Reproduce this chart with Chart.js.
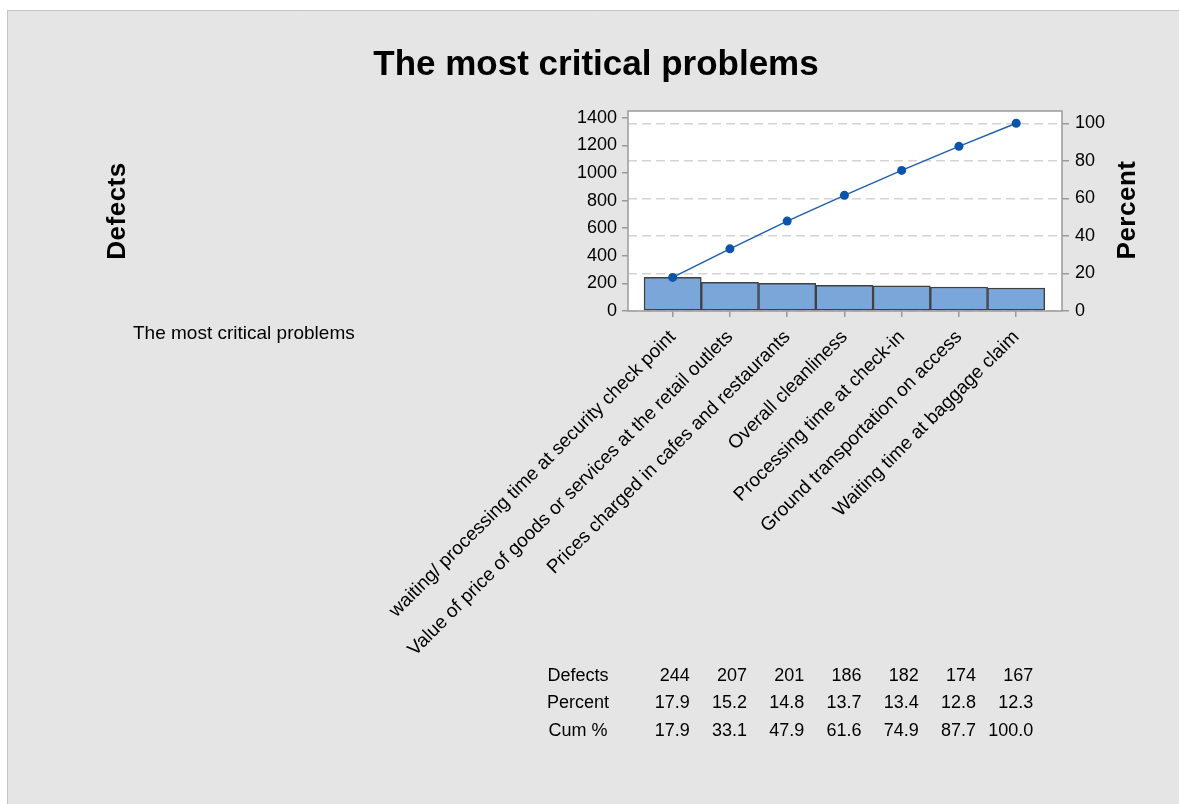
<!DOCTYPE html>
<html><head><meta charset="utf-8">
<script src="https://cdn.jsdelivr.net/npm/chart.js@4.4.1/dist/chart.umd.min.js"></script>
<style>html,body{margin:0;padding:0;background:#fff;}#wrap{width:1179px;height:804px;position:relative}</style>
</head><body><div id="wrap"><canvas id="c" width="1179" height="804"></canvas></div>
<script>
const chartTitle = 'The most critical problems';
const xAxisTitle = 'The most critical problems';
const leftAxisTitle = 'Defects';
const rightAxisTitle = 'Percent';
const categories = [
  'waiting/ processing time at security check point',
  'Value of price of goods or services at the retail outlets',
  'Prices charged in cafes and restaurants',
  'Overall cleanliness',
  'Processing time at check-in',
  'Ground transportation on access',
  'Waiting time at baggage claim'
];
const defects = [244, 207, 201, 186, 182, 174, 167];
const percent = [17.9, 15.2, 14.8, 13.7, 13.4, 12.8, 12.3];
const cumPercent = [17.9, 33.1, 47.9, 61.6, 74.9, 87.7, 100.0];
const countTicks = [0, 200, 400, 600, 800, 1000, 1200, 1400];
const percentTicks = [0, 20, 40, 60, 80, 100];
const tableRows = ['Defects', 'Percent', 'Cum %'];

const countMax = 1450;
const totalDefects = defects.reduce((a, b) => a + b, 0);
const percentMax = countMax / totalDefects * 100;

const FONT = '"Liberation Sans", Arial, sans-serif';

const decor = {
  id: 'decor',
  beforeDraw(chart) {
    const ctx = chart.ctx, a = chart.chartArea;
    ctx.save();
    ctx.fillStyle = '#ffffff';
    ctx.fillRect(0, 0, chart.width, chart.height);
    ctx.fillStyle = '#e5e5e5';
    ctx.fillRect(7, 10, chart.width - 7, chart.height - 10);
    ctx.strokeStyle = '#c4c4c4';
    ctx.lineWidth = 1;
    ctx.beginPath();
    ctx.moveTo(7.5, chart.height); ctx.lineTo(7.5, 10.5); ctx.lineTo(chart.width, 10.5);
    ctx.stroke();
    ctx.fillStyle = '#ffffff';
    ctx.fillRect(a.left, a.top, a.right - a.left, a.bottom - a.top);
    ctx.restore();
  },
  afterDraw(chart) {
    const ctx = chart.ctx, a = chart.chartArea, xs = chart.scales.x;
    ctx.save();
    ctx.strokeStyle = '#9a9a9a';
    ctx.lineWidth = 1.5;
    ctx.strokeRect(a.left, a.top, a.right - a.left, a.bottom - a.top);
    ctx.fillStyle = '#000';
    ctx.font = 'bold 35px ' + FONT;
    ctx.textAlign = 'center';
    ctx.textBaseline = 'alphabetic';
    ctx.fillText(chartTitle, 596, 75);
    ctx.font = '19px ' + FONT;
    ctx.textAlign = 'left';
    ctx.textBaseline = 'middle';
    ctx.fillText(xAxisTitle, 133, 334);
    ctx.font = 'bold 26px ' + FONT;
    try { ctx.letterSpacing = '0.5px'; } catch (e) {}
    ctx.textAlign = 'center';
    ctx.textBaseline = 'alphabetic';
    ctx.save();
    ctx.translate(125, 211);
    ctx.rotate(-Math.PI / 2);
    ctx.fillText(leftAxisTitle, 0, 0);
    ctx.restore();
    ctx.save();
    ctx.translate(1135, 210);
    ctx.rotate(-Math.PI / 2);
    ctx.fillText(rightAxisTitle, 0, 0);
    ctx.restore();
    try { ctx.letterSpacing = '0px'; } catch (e) {}
    ctx.font = '18px ' + FONT;
    ctx.textBaseline = 'middle';
    const rowY = [676, 703, 731];
    const rowVals = [
      defects.map(v => String(v)),
      percent.map(v => v.toFixed(1)),
      cumPercent.map(v => v.toFixed(1))
    ];
    tableRows.forEach((lab, r) => {
      ctx.textAlign = 'center';
      ctx.fillText(lab, 578, rowY[r]);
      ctx.textAlign = 'right';
      rowVals[r].forEach((t, i) => {
        ctx.fillText(t, xs.getPixelForValue(i) + 17, rowY[r]);
      });
    });
    ctx.restore();
  }
};

new Chart(document.getElementById('c'), {
  type: 'bar',
  data: {
    datasets: [
      {
        type: 'line',
        label: 'Cum %',
        yAxisID: 'y1',
        data: cumPercent.map((v, i) => ({ x: i, y: v })),
        borderColor: '#1f5fae',
        borderWidth: 1.5,
        pointRadius: 4.5,
        pointBackgroundColor: '#0a55a8',
        pointBorderWidth: 0,
        tension: 0,
        order: 0
      },
      {
        type: 'bar',
        label: 'Defects',
        yAxisID: 'y',
        data: defects.map((v, i) => ({ x: i, y: v })),
        backgroundColor: '#7ba6d9',
        borderColor: '#404040',
        borderWidth: 1.5,
        borderSkipped: false,
        categoryPercentage: 1,
        barPercentage: 1,
        order: 1
      }
    ]
  },
  options: {
    responsive: false,
    animation: false,
    devicePixelRatio: 1,
    layout: { padding: { top: 111, left: 0, right: 0, bottom: 0 } },
    plugins: { legend: { display: false }, tooltip: { enabled: false }, title: { display: false } },
    scales: {
      x: {
        type: 'linear',
        position: 'bottom',
        offset: false,
        min: -0.78,
        max: 6.8,
        afterBuildTicks: s => { s.ticks = categories.map((_, i) => ({ value: i })); },
        afterFit: s => { s.height = 493; },
        border: { display: false },
        grid: { drawOnChartArea: false, offset: false, tickLength: 6, color: '#9a9a9a', lineWidth: 1.5 },
        ticks: {
          autoSkip: false,
          maxRotation: 45,
          minRotation: 45,
          padding: 9,
          color: '#000',
          font: { family: FONT, size: 19 },
          callback: (v, i) => categories[i]
        }
      },
      y: {
        type: 'linear',
        position: 'left',
        min: 0,
        max: countMax,
        afterBuildTicks: s => { s.ticks = countTicks.map(v => ({ value: v })); },
        afterFit: s => { s.width = 628; },
        border: { display: false },
        grid: { drawOnChartArea: false, tickLength: 6, color: '#9a9a9a', lineWidth: 1.5 },
        ticks: { padding: 5, color: '#000', font: { family: FONT, size: 18 }, callback: v => String(v) }
      },
      y1: {
        type: 'linear',
        position: 'right',
        min: 0,
        max: percentMax,
        afterBuildTicks: s => { s.ticks = percentTicks.map(v => ({ value: v })); },
        afterFit: s => { s.width = 117; },
        border: { display: false, dash: [9, 5] },
        grid: {
          drawOnChartArea: true,
          tickLength: 7,
          color: '#d4d4d4',
          tickColor: '#9a9a9a',
          lineWidth: 1.5,
          tickWidth: 1.5
        },
        ticks: { padding: 6, color: '#000', font: { family: FONT, size: 18 }, callback: v => String(v) }
      }
    }
  },
  plugins: [decor]
});
</script>
</body></html>
